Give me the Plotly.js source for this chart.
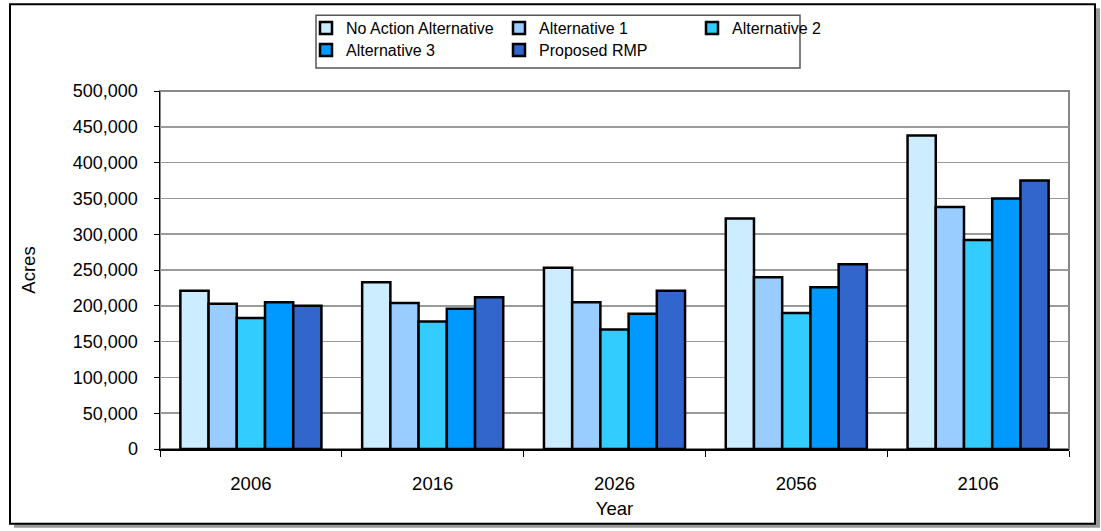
<!DOCTYPE html>
<html>
<head>
<meta charset="utf-8">
<script src="https://cdn.plot.ly/plotly-3.0.1.min.js"></script>
<style>
  html, body { margin: 0; padding: 0; background: #ffffff; }
  #chart { width: 1101px; height: 531px; }
</style>
</head>
<body>
<div id="chart"></div>
<script>
// Projected acreage by year for each management alternative
const years = ['2006', '2016', '2026', '2056', '2106'];

const noAction     = [221000, 233000, 253000, 322000, 438000];
const alternative1 = [203000, 204000, 205000, 240000, 338000];
const alternative2 = [183000, 178000, 167000, 190000, 292000];
const alternative3 = [205000, 196000, 189000, 226000, 350000];
const proposedRMP  = [200000, 212000, 221000, 258000, 375000];

const seriesNames  = ['No Action Alternative', 'Alternative 1', 'Alternative 2', 'Alternative 3', 'Proposed RMP'];
const seriesValues = [noAction, alternative1, alternative2, alternative3, proposedRMP];
const seriesColors = ['#CCECFF', '#99CCFF', '#33CCFF', '#0099FF', '#3366CC'];
const legendGroups = ['legend', 'legend', 'legend', 'legend2', 'legend2'];

const FONT = '"Liberation Sans", Arial, sans-serif';

// plot-area geometry in pixels, used to place decorations in paper units
const W = 1101, H = 531;
const L = 160, R = 1069, T = 90, B = 449;
const px = x => (x - L) / (R - L);
const py = y => (B - y) / (B - T);

const traces = seriesNames.map((name, i) => ({
  type: 'bar',
  name: name,
  x: years,
  y: seriesValues[i],
  legend: legendGroups[i],
  marker: { color: seriesColors[i], line: { color: '#000000', width: 2.5 } },
  hoverinfo: 'x+y+name'
}));

const legendCommon = {
  orientation: 'h',
  xanchor: 'left',
  yanchor: 'middle',
  bgcolor: 'rgba(0,0,0,0)',
  borderwidth: 0,
  font: { family: FONT, size: 16, color: '#000000' },
  entrywidth: 148,
  itemwidth: 30,
  tracegroupgap: 0
};

const layout = {
  width: W,
  height: H,
  margin: { l: L, r: W - R, t: T, b: H - B, pad: 0 },
  paper_bgcolor: '#ffffff',
  plot_bgcolor: 'rgba(0,0,0,0)',
  font: { family: FONT, color: '#000000' },
  barmode: 'group',
  bargap: 0.224,
  bargroupgap: 0,
  showlegend: true,
  legend:  Object.assign({}, legendCommon, { x: px(306), y: py(28) }),
  legend2: Object.assign({}, legendCommon, { x: px(306), y: py(50) }),
  xaxis: {
    type: 'category',
    tickson: 'boundaries',
    ticks: 'outside',
    ticklen: 6,
    tickwidth: 1,
    tickcolor: '#000000',
    showline: true,
    linecolor: '#000000',
    linewidth: 1.5,
    showgrid: false,
    zeroline: false,
    ticklabelstandoff: 17,
    tickfont: { family: FONT, size: 18.5, color: '#000000' },
    title: { text: 'Year', font: { family: FONT, size: 18.5, color: '#000000' }, standoff: 9 },
    automargin: false
  },
  yaxis: {
    range: [0, 500000],
    tickmode: 'linear',
    tick0: 0,
    dtick: 50000,
    tickformat: ',d',
    ticks: 'outside',
    ticklen: 5,
    tickwidth: 1,
    tickcolor: '#000000',
    showline: true,
    linecolor: '#000000',
    linewidth: 1.5,
    showgrid: true,
    gridcolor: '#9a9a9a',
    gridwidth: 1.5,
    zeroline: false,
    ticklabelstandoff: 12,
    tickfont: { family: FONT, size: 18, color: '#000000' },
    title: { text: 'Acres', font: { family: FONT, size: 18.5, color: '#000000' }, standoff: 32 },
    automargin: false,
    fixedrange: true
  },
  shapes: [
    // drop shadow of the chart frame
    { type: 'rect', xref: 'paper', yref: 'paper', layer: 'below',
      x0: px(14), x1: px(1100), y0: py(528), y1: py(7),
      fillcolor: '#9a9a9a', line: { width: 0 } },
    // chart frame
    { type: 'rect', xref: 'paper', yref: 'paper', layer: 'below',
      x0: px(10), x1: px(1095), y0: py(524), y1: py(3),
      fillcolor: '#ffffff', line: { color: '#000000', width: 2 } },
    // plot-area border
    { type: 'rect', xref: 'paper', yref: 'paper', layer: 'below',
      x0: 0, x1: 1, y0: 0, y1: 1,
      fillcolor: '#ffffff', line: { color: '#888888', width: 2 } },
    // legend box
    { type: 'rect', xref: 'paper', yref: 'paper', layer: 'below',
      x0: px(316), x1: px(800), y0: py(67), y1: py(14),
      fillcolor: '#ffffff', line: { color: '#555555', width: 1.5 } }
  ]
};

Plotly.newPlot('chart', traces, layout, { displayModeBar: false, staticPlot: true });
</script>
</body>
</html>
